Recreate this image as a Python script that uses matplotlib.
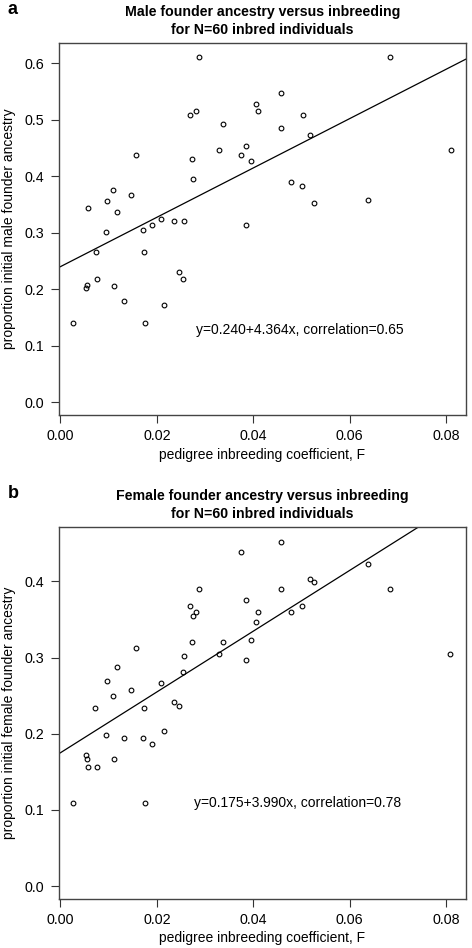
import matplotlib
matplotlib.use('Agg')
import matplotlib.pyplot as plt

plt.rcParams['font.family'] = ['Liberation Sans', 'DejaVu Sans']

# panel a: male founder ancestry
male_F = [0.0287, 0.0683, 0.0458, 0.0406, 0.0409, 0.0281, 0.0268, 0.0503,
          0.0337, 0.0458, 0.0517, 0.0385, 0.0329, 0.0810, 0.0156, 0.0375,
          0.0273, 0.0396, 0.0274, 0.0478, 0.0502, 0.0109, 0.0147, 0.0096,
          0.0639, 0.0525, 0.0058, 0.0117, 0.0209, 0.0256, 0.0236, 0.0190,
          0.0385, 0.0171, 0.0095, 0.0073, 0.0174, 0.0245, 0.0254, 0.0075,
          0.0112, 0.0055, 0.0052, 0.0131, 0.0214, 0.0027, 0.0176]
male_anc = [0.610, 0.610, 0.547, 0.528, 0.516, 0.516, 0.508, 0.508,
            0.492, 0.485, 0.473, 0.454, 0.446, 0.446, 0.438, 0.438,
            0.430, 0.426, 0.395, 0.390, 0.383, 0.375, 0.367, 0.356,
            0.357, 0.352, 0.344, 0.336, 0.324, 0.321, 0.321, 0.313,
            0.313, 0.305, 0.301, 0.266, 0.266, 0.231, 0.219, 0.219,
            0.206, 0.207, 0.203, 0.180, 0.172, 0.140, 0.140]

# panel b: female founder ancestry
female_F = [0.0458, 0.0375, 0.0639, 0.0517, 0.0525, 0.0287, 0.0458, 0.0683,
            0.0385, 0.0268, 0.0502, 0.0281, 0.0409, 0.0478, 0.0274, 0.0405,
            0.0396, 0.0273, 0.0337, 0.0156, 0.0329, 0.0809, 0.0256, 0.0385,
            0.0117, 0.0254, 0.0096, 0.0209, 0.0147, 0.0109, 0.0236, 0.0245,
            0.0072, 0.0174, 0.0214, 0.0095, 0.0131, 0.0171, 0.0189, 0.0052,
            0.0055, 0.0112, 0.0058, 0.0075, 0.0027, 0.0176]
female_anc = [0.452, 0.438, 0.423, 0.403, 0.399, 0.390, 0.390, 0.390,
              0.375, 0.367, 0.367, 0.360, 0.360, 0.360, 0.355, 0.347,
              0.323, 0.320, 0.320, 0.313, 0.304, 0.304, 0.302, 0.297,
              0.288, 0.281, 0.269, 0.267, 0.257, 0.249, 0.242, 0.237,
              0.234, 0.234, 0.203, 0.198, 0.195, 0.195, 0.187, 0.172,
              0.167, 0.167, 0.156, 0.156, 0.109, 0.109]

fits = [(0.240, 4.364, 0.65), (0.175, 3.990, 0.78)]

x_ticks = [0.00, 0.02, 0.04, 0.06, 0.08]
x_ticklabels = ['0.00', '0.02', '0.04', '0.06', '0.08']

fig = plt.figure(figsize=(4.72, 9.48), dpi=100)
ax_a = fig.add_axes([0.124, 0.5622, 0.863, 0.3921])
ax_b = fig.add_axes([0.124, 0.0517, 0.863, 0.3921])

panels = [
    (ax_a, male_F, male_anc, 'a', 'Male founder ancestry versus inbreeding',
     'proportion initial male founder ancestry', [0.0, 0.1, 0.2, 0.3, 0.4, 0.5, 0.6],
     (-0.0225, 0.635), (0.0496, 0.128)),
    (ax_b, female_F, female_anc, 'b', 'Female founder ancestry versus inbreeding',
     'proportion initial female founder ancestry', [0.0, 0.1, 0.2, 0.3, 0.4],
     (-0.017, 0.471), (0.0492, 0.109)),
]

for k, (ax, xs, ys, letter, title, ylab, yt, ylim, txt_pos) in enumerate(panels):
    a0, b1, r = fits[k]
    ax.plot(xs, ys, 'o', mfc='none', mec='black', ms=3.4, mew=0.8)
    ax.axline((0, a0), slope=b1, color='black', lw=0.9)
    ax.set_xlim(-0.0004, 0.0841)
    ax.set_ylim(*ylim)
    ax.set_xticks(x_ticks)
    ax.set_xticklabels(x_ticklabels)
    ax.set_yticks(yt)
    ax.set_yticklabels(['%.1f' % v for v in yt])
    ax.tick_params(direction='out', length=5.8, width=0.8, pad=4.5, labelsize=10.3,
                   color='#333333')
    for s in ax.spines.values():
        s.set_color('#444444')
        s.set_linewidth(1.0)
    ax.set_xlabel('pedigree inbreeding coefficient, F', fontsize=10, labelpad=3)
    ax.set_ylabel(ylab, fontsize=10, labelpad=6)
    ax.set_title(title + '\nfor N=60 inbred individuals', fontsize=10.2,
                 fontweight='bold', pad=7, linespacing=1.3)
    ax.text(txt_pos[0], txt_pos[1],
            'y=%.3f+%.3fx, correlation=%.2f' % (a0, b1, r),
            fontsize=10, ha='center', va='center')
    ax.text(-0.125, 1.09, letter, transform=ax.transAxes, fontsize=13,
            fontweight='bold', ha='left', va='center')

fig.savefig('out.png', dpi=100)
